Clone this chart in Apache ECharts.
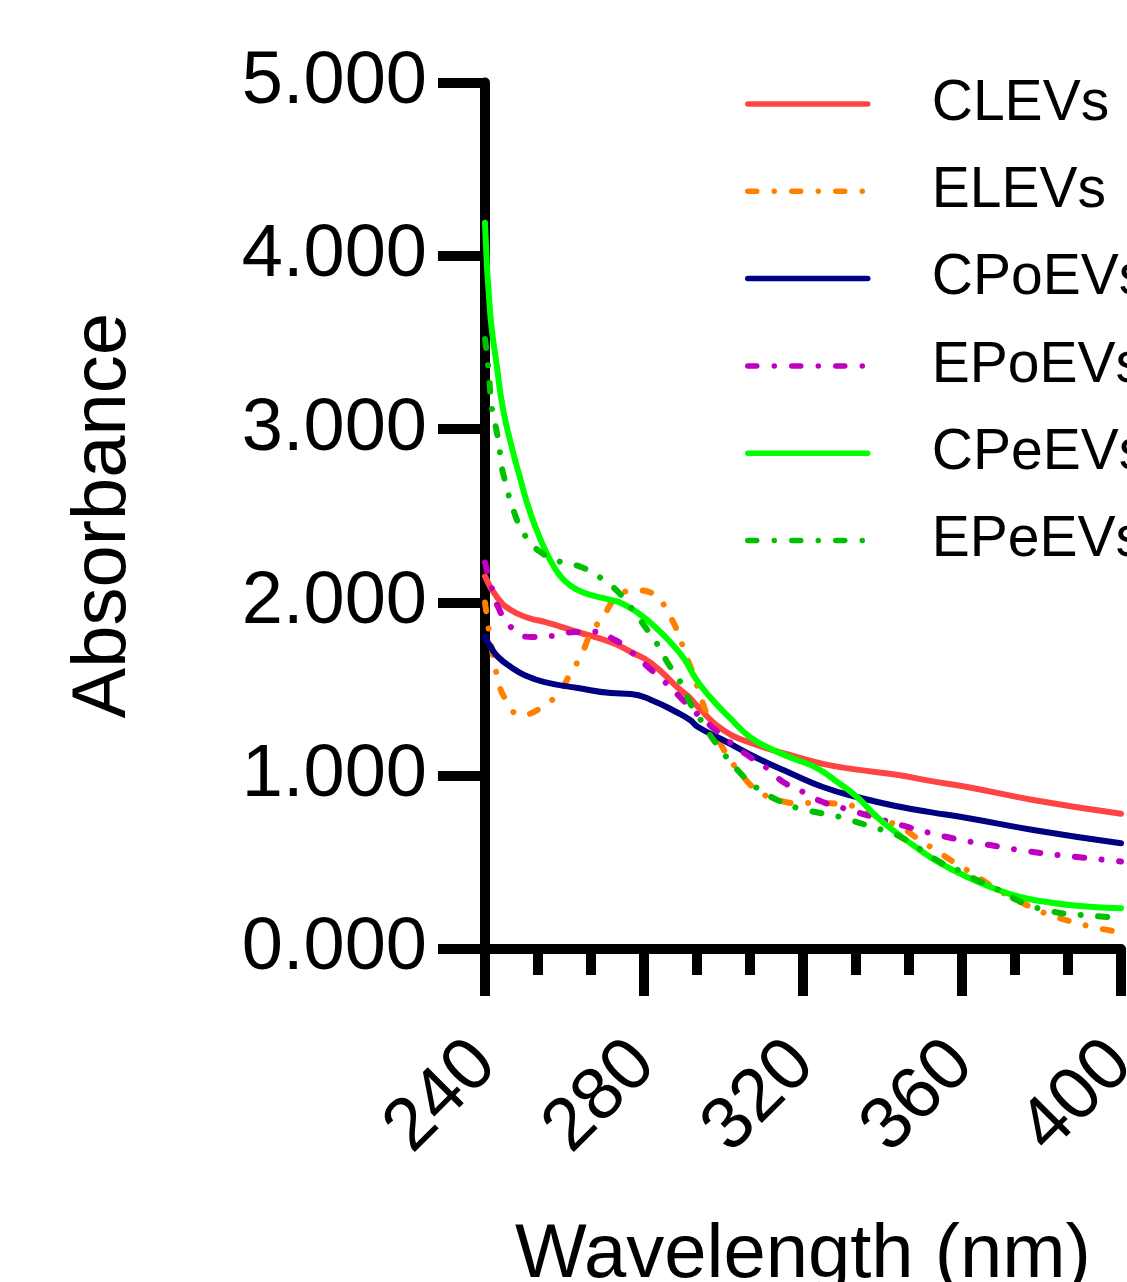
<!DOCTYPE html>
<html>
<head>
<meta charset="utf-8">
<script src="https://cdn.jsdelivr.net/npm/echarts@6/dist/echarts.min.js"></script>
<style>
  html, body { margin: 0; padding: 0; background: #fff; }
  #chart { width: 1127px; height: 1282px; }
</style>
</head>
<body>
<div id="chart"></div>
<script>
// wavelength (nm) / absorbance pairs
const seriesNames = ['CLEVs', 'ELEVs', 'CPoEVs', 'EPoEVs', 'CPeEVs', 'EPeEVs']
const seriesColors = ['#ff4444', '#ff8000', '#000080', '#c000c0', '#00ff00', '#00c000']
const seriesDashed = [false, true, false, true, false, true]

const clevs = [[240, 2.15], [243, 2.03], [246.5, 1.956], [251, 1.91], [255, 1.887], [263.4, 1.829],
  [271.7, 1.77], [276.7, 1.714], [281.8, 1.65], [288.6, 1.506], [291.6, 1.448], [293.6, 1.397],
  [299.9, 1.264], [308.4, 1.177], [316.7, 1.12], [325, 1.068], [333.6, 1.035], [344, 1.004],
  [352, 0.97], [361.3, 0.935], [377.9, 0.86], [400, 0.78]]

const elevs = [[240, 2.0], [241.3, 1.795], [243.3, 1.552], [245.3, 1.437], [249, 1.35], [254, 1.39],
  [258.4, 1.477], [261.6, 1.593], [264.2, 1.696], [266.7, 1.823], [269.7, 1.916], [273, 2.025],
  [277.7, 2.07], [282.8, 2.043], [286, 1.94], [288.6, 1.823], [290.3, 1.708], [292.3, 1.593],
  [294.1, 1.466], [296.1, 1.339], [298.4, 1.223], [300.9, 1.12], [304.2, 1.016], [308.4, 0.917],
  [313, 0.866], [318.5, 0.842], [323.8, 0.842], [329.3, 0.837], [334.8, 0.808], [339.4, 0.756],
  [344.4, 0.704], [349.4, 0.629], [354, 0.56], [358.7, 0.49], [363.3, 0.427], [367.8, 0.358],
  [372.8, 0.294], [377.9, 0.237], [382.9, 0.19], [387.9, 0.156], [394, 0.121], [400, 0.097]]

const cpoevs = [[240, 1.80], [241.5, 1.74], [243.3, 1.685], [246.5, 1.627], [250, 1.58], [255, 1.54],
  [263.4, 1.506], [271.7, 1.477], [276.7, 1.472], [281.8, 1.437], [288.6, 1.362], [291.6, 1.321],
  [293.6, 1.281], [299.9, 1.206], [308.4, 1.102], [316.7, 1.016], [325, 0.935], [333.6, 0.877],
  [344, 0.822], [352, 0.79], [361.3, 0.756], [377.9, 0.687], [400, 0.61]]

const epoevs = [[240, 2.23], [241.5, 2.1], [243.3, 1.973], [246.5, 1.858], [251.6, 1.80], [256.6, 1.806],
  [262.6, 1.829], [267.7, 1.83], [272.7, 1.783], [276.5, 1.72], [281, 1.627], [285.3, 1.54],
  [289.3, 1.448], [293.2, 1.36], [297.4, 1.275], [301.6, 1.194], [305.9, 1.12], [310.9, 1.044],
  [315, 0.964], [320, 0.906], [325, 0.848], [330, 0.814], [335.1, 0.779], [345.5, 0.71],
  [356.2, 0.646], [367, 0.60], [377.9, 0.56], [388.9, 0.531], [400, 0.505]]

const cpeevs = [[240, 4.19], [241.3, 3.67], [243, 3.36], [244.5, 3.12], [246.8, 2.89], [248.8, 2.72],
  [250.5, 2.58], [252.6, 2.44], [255, 2.31], [257.5, 2.2], [260, 2.125], [263, 2.075],
  [267, 2.04], [271, 2.018], [274.2, 1.997], [278.5, 1.939], [282.8, 1.858], [286.8, 1.766],
  [290.3, 1.668], [293, 1.56], [296.6, 1.454], [301.6, 1.333], [306.7, 1.223], [312.5, 1.148],
  [318.5, 1.091], [323.5, 1.044], [328.6, 0.964], [333.6, 0.877], [338.6, 0.762], [343.6, 0.669],
  [349.4, 0.571], [354.5, 0.496], [361.3, 0.415], [367.8, 0.352], [374.6, 0.30], [381.4, 0.271],
  [389.7, 0.248], [400, 0.235]]

const epeevs = [[240, 3.52], [240.8, 3.36], [241.8, 3.11], [243, 2.98], [243.8, 2.86], [244.5, 2.75],
  [247.8, 2.49], [250.3, 2.378], [254, 2.29], [259.1, 2.233], [264.2, 2.204], [269.2, 2.14],
  [273.5, 2.06], [277.2, 1.956], [280.3, 1.858], [283.5, 1.754], [286, 1.65], [289.3, 1.535],
  [291.7, 1.415], [294.6, 1.31], [297.9, 1.194], [304.2, 1.016], [308.4, 0.929], [313.5, 0.86],
  [318.5, 0.814], [324.3, 0.785], [329.3, 0.762], [334.3, 0.727], [339.9, 0.687], [344.8, 0.643],
  [354.5, 0.502], [359.5, 0.45], [363.8, 0.398], [368.8, 0.346], [373.8, 0.283], [378.9, 0.237],
  [384.7, 0.208], [390.2, 0.196], [396.5, 0.185], [400, 0.179]]

const seriesData = [clevs, elevs, cpoevs, epoevs, cpeevs, epeevs]

const xTicks = [240, 280, 320, 360, 400]
const yTicks = [0, 1, 2, 3, 4, 5]

const font = '"Liberation Sans", Arial, sans-serif'
const dashDot = [9, 17.5, 0.01, 17.5]

let myChart = echarts.init(document.getElementById('chart'))
myChart.setOption({
  animation: false,
  backgroundColor: '#fff',
  textStyle: { fontFamily: font },
  grid: {
    left: 485,
    right: 6,
    top: 82.5,
    bottom: 333,
    containLabel: false,
    outerBoundsMode: 'none'
  },
  legend: {
    orient: 'vertical',
    left: 740,
    top: 70.5,
    itemWidth: 120,
    itemHeight: 58,
    itemGap: 30.3,
    lineStyle: { width: 5.5 },
    itemStyle: { color: 'transparent', opacity: 0, borderWidth: 0 },
    textStyle: {
      fontFamily: font,
      fontSize: 57,
      color: '#000',
      padding: [0, 0, 0, 59]
    },
    data: seriesNames
  },
  xAxis: {
    type: 'value',
    min: xTicks[0],
    max: xTicks[xTicks.length - 1],
    interval: 40,
    name: 'Wavelength (nm)',
    nameLocation: 'middle',
    nameGap: 269,
    nameTextStyle: { fontFamily: font, fontSize: 76, color: '#000' },
    splitLine: { show: false },
    axisLine: { lineStyle: { color: '#000', width: 10 } },
    axisTick: { length: 47, lineStyle: { color: '#000', width: 10 } },
    minorTick: { show: true, splitNumber: 3, length: 26, lineStyle: { color: '#000', width: 10 } },
    axisLabel: {
      rotate: 45,
      margin: 104,
      fontFamily: font,
      fontSize: 74,
      color: '#000',
      showMinLabel: true,
      showMaxLabel: true
    }
  },
  yAxis: {
    type: 'value',
    min: yTicks[0],
    max: yTicks[yTicks.length - 1],
    interval: 1,
    name: 'Absorbance',
    nameLocation: 'middle',
    nameGap: 343,
    nameTextStyle: { fontFamily: font, fontSize: 76, color: '#000' },
    splitLine: { show: false },
    axisLine: { show: true, lineStyle: { color: '#000', width: 10 } },
    axisTick: { show: true, length: 47, lineStyle: { color: '#000', width: 10 } },
    axisLabel: {
      margin: 58,
      fontFamily: font,
      fontSize: 74,
      color: '#000',
      formatter: function (v) { return v.toFixed(3) }
    }
  },
  series: seriesNames.map(function (name, i) {
    return {
      name: name,
      type: 'line',
      data: seriesData[i],
      symbol: 'none',
      smooth: 0.5,
      color: seriesColors[i],
      lineStyle: {
        color: seriesColors[i],
        width: 6,
        type: seriesDashed[i] ? dashDot : 'solid',
        cap: 'round',
        join: 'round'
      },
      z: 2 + i
    }
  })
})
</script>
</body>
</html>
